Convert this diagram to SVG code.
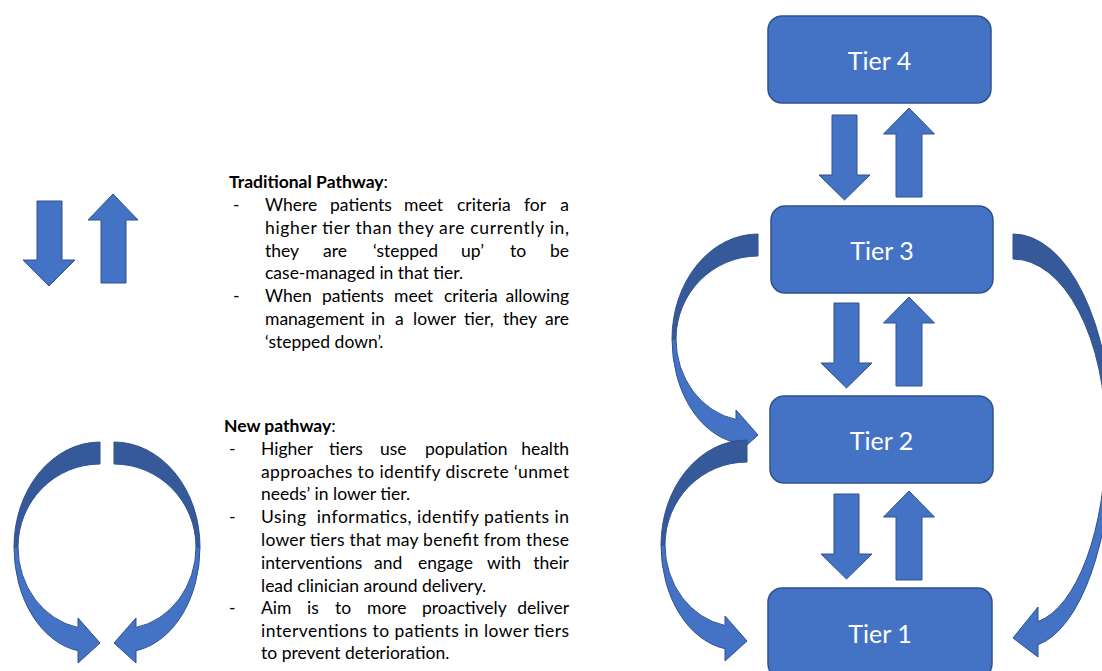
<svg xmlns="http://www.w3.org/2000/svg" xmlns:xlink="http://www.w3.org/1999/xlink" width="1102" height="671" viewBox="0 0 1102 671">
  <style>
    .box { fill: #4472C4; stroke: #2F528F; stroke-width: 1.5; }
    .arrow { fill: #4472C4; stroke: #2F528F; stroke-width: 1; stroke-linejoin: miter; }
    .back { fill: #36599A; stroke: #2F528F; stroke-width: 1; }
    .label { font-family: Lato, "Open Sans", "Liberation Sans", sans-serif; font-size: 25px; fill: #FFFFFF; text-anchor: middle; }
    .body { font-family: Lato, "Open Sans", "Liberation Sans", sans-serif; font-size: 17.5px; fill: #000000; }
    .bold { font-weight: bold; }
    .end { text-anchor: end; }
  </style>
  <defs>
    <!-- curved ribbon arrow: dark back band, light front band with head -->
    <g id="curl">
      <path class="back" d="M100,442 A86,105 0 0 0 14,547 L18,547 A82,83 0 0 1 100,464 Z"/>
      <path class="arrow" d="M14,547 A76,105 0 0 0 78,650.7 L78,663 L100,643 L78,618 L78,627.5 A74,82 0 0 1 18,547 Z"/>
    </g>
    <path id="down" d="M-12.5,0 H12.5 V60 H25.5 L0,85 L-25.5,60 H-12.5 Z"/>
    <path id="up" d="M0,0 L25.5,26 H13 V89 H-13 V26 H-25.5 Z"/>
  </defs>

  <!-- legend: step up / step down -->
  <g id="legend-steps">
    <path class="arrow" d="M37,201 H62 V260 H75 L49,286 L23,260 H37 Z"/>
    <path class="arrow" d="M113,194 L138,220 H126 V283 H101 V220 H88 Z"/>
  </g>

  <!-- legend: circular pathway -->
  <g id="legend-cycle">
    <use xlink:href="#curl"/>
    <use xlink:href="#curl" transform="translate(214,0) scale(-1,1)"/>
  </g>

  <!-- text: traditional pathway -->
  <g id="text-traditional" class="body">
    <text x="229" y="188"><tspan class="bold">Traditional Pathway</tspan>:</text>
    <text x="233" y="211">-</text>
    <text y="211"><tspan x="265">Where</tspan><tspan x="330">patients</tspan><tspan x="404">meet</tspan><tspan x="457">criteria</tspan><tspan x="524">for</tspan></text>
    <text x="569" y="211" class="end">a</text>
    <text x="265" y="234" textLength="304" lengthAdjust="spacing">higher tier than they are currently in,</text>
    <text y="257"><tspan x="265">they</tspan><tspan x="323">are</tspan><tspan x="373">‘stepped</tspan><tspan x="461">up’</tspan><tspan x="510">to</tspan></text>
    <text x="569" y="257" class="end">be</text>
    <text x="265" y="279">case-managed in that tier.</text>
    <text x="233" y="302">-</text>
    <text y="302"><tspan x="265">When</tspan><tspan x="322">patients</tspan><tspan x="394">meet</tspan><tspan x="444">criteria</tspan></text>
    <text x="569" y="302" class="end">allowing</text>
    <text y="325"><tspan x="265">management</tspan><tspan x="371">in</tspan><tspan x="395">a</tspan><tspan x="413">lower</tspan><tspan x="464">tier,</tspan><tspan x="503">they</tspan></text>
    <text x="569" y="325" class="end">are</text>
    <text x="265" y="348">‘stepped down’.</text>
  </g>

  <!-- text: new pathway -->
  <g id="text-new" class="body">
    <text x="224" y="432"><tspan class="bold">New pathway</tspan>:</text>
    <text x="229" y="455">-</text>
    <text y="455"><tspan x="261">Higher</tspan><tspan x="329">tiers</tspan><tspan x="380">use</tspan><tspan x="425">population</tspan></text>
    <text x="569" y="455" class="end">health</text>
    <text x="261" y="478" textLength="308" lengthAdjust="spacing">approaches to identify discrete ‘unmet</text>
    <text x="261" y="500">needs’ in lower tier.</text>
    <text x="229" y="523">-</text>
    <text x="261" y="523" textLength="308" lengthAdjust="spacing" xml:space="preserve">Using  informatics, identify patients in</text>
    <text x="261" y="546" textLength="308" lengthAdjust="spacing">lower tiers that may benefit from these</text>
    <text y="569"><tspan x="261">interventions</tspan><tspan x="374">and</tspan><tspan x="418">engage</tspan><tspan x="487">with</tspan></text>
    <text x="569" y="569" class="end">their</text>
    <text x="261" y="592">lead clinician around delivery.</text>
    <text x="229" y="614">-</text>
    <text y="614"><tspan x="261">Aim</tspan><tspan x="307">is</tspan><tspan x="335">to</tspan><tspan x="367">more</tspan><tspan x="422">proactively</tspan></text>
    <text x="569" y="614" class="end">deliver</text>
    <text x="261" y="637" textLength="308" lengthAdjust="spacing">interventions to patients in lower tiers</text>
    <text x="261" y="659">to prevent deterioration.</text>
  </g>

  <!-- connectors between tiers -->
  <g id="connectors">
    <use xlink:href="#down" class="arrow" transform="translate(844.5,115)"/>
    <use xlink:href="#up" class="arrow" transform="translate(909,108)"/>
    <use xlink:href="#down" class="arrow" transform="translate(846.5,303)"/>
    <use xlink:href="#up" class="arrow" transform="translate(909,297)"/>
    <use xlink:href="#down" class="arrow" transform="translate(846.5,494)"/>
    <use xlink:href="#up" class="arrow" transform="translate(909,491)"/>
    <!-- Tier 3 to Tier 2, Tier 2 to Tier 1 on the left -->
    <use xlink:href="#curl" transform="translate(658,-208)"/>
    <use xlink:href="#curl" transform="translate(647,-2)"/>
    <!-- Tier 3 to Tier 1 on the right -->
    <path class="back" d="M1013,234 A99,203 0 0 1 1112,437 L1106,437 A93,178 0 0 0 1013,259 Z"/>
    <path class="arrow" d="M1112,437 A87,210 0 0 1 1038,644.7 L1038,657 L1013,638 L1038,607 L1038,621.6 A81,187 0 0 0 1106,437 Z"/>
  </g>

  <g id="tier4">
    <rect class="box" x="768" y="16" width="223" height="87" rx="14"/>
    <text class="label" x="879.5" y="70">Tier 4</text>
  </g>
  <g id="tier3">
    <rect class="box" x="771" y="206" width="222" height="87" rx="14"/>
    <text class="label" x="882" y="260">Tier 3</text>
  </g>
  <g id="tier2">
    <rect class="box" x="770" y="396" width="223" height="87" rx="14"/>
    <text class="label" x="881.5" y="450">Tier 2</text>
  </g>
  <g id="tier1">
    <rect class="box" x="768" y="588" width="224" height="90" rx="14"/>
    <text class="label" x="880" y="643">Tier 1</text>
  </g>
</svg>
